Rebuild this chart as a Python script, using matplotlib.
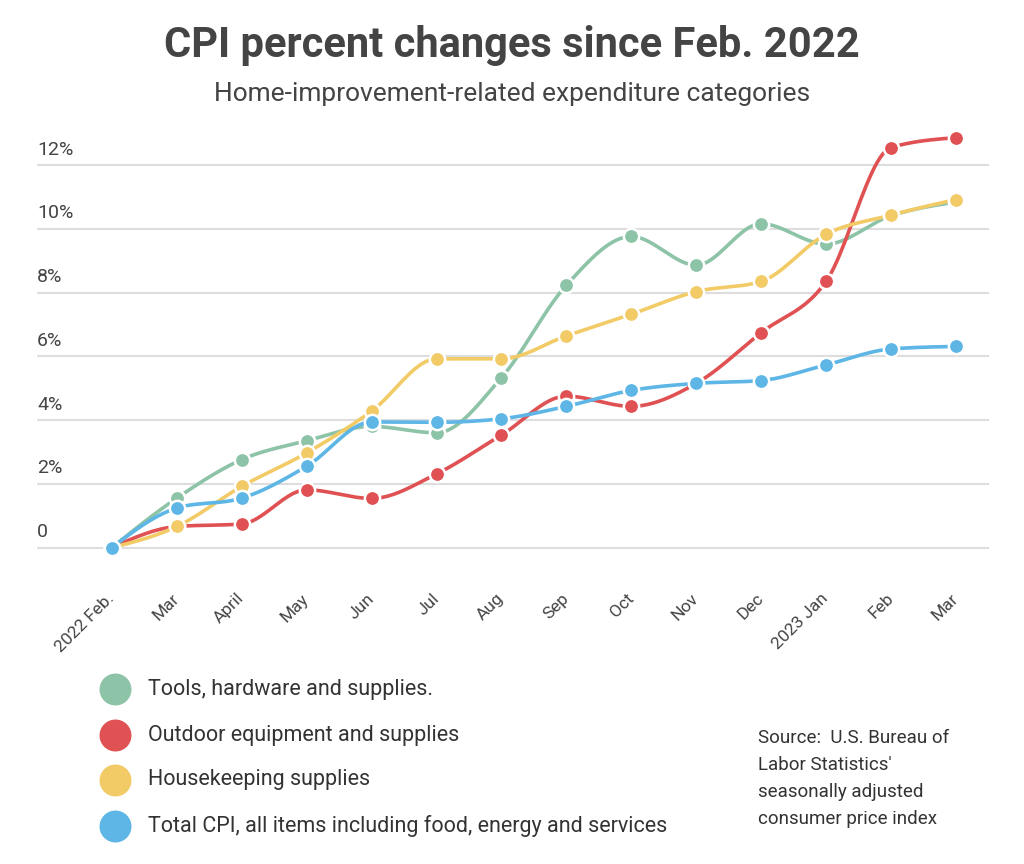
import numpy as np
import matplotlib.pyplot as plt
from matplotlib.lines import Line2D

plt.rcParams['font.family'] = ['Roboto', 'DejaVu Sans']

months = ['2022 Feb.', 'Mar', 'April', 'May', 'Jun', 'Jul', 'Aug', 'Sep',
          'Oct', 'Nov', 'Dec', '2023 Jan', 'Feb', 'Mar']

tools = [0, 1.55, 2.76, 3.35, 3.8, 3.6, 5.33, 8.23, 9.76, 8.86, 10.16, 9.52, 10.41, 10.84]
outdoor = [0, 0.66, 0.74, 1.81, 1.54, 2.31, 3.53, 4.75, 4.43, 5.15, 6.74, 8.35, 12.55, 12.86]
housekeeping = [0, 0.66, 1.92, 2.97, 4.28, 5.92, 5.92, 6.64, 7.32, 8.03, 8.35, 9.83, 10.43, 10.92]
total_cpi = [0, 1.24, 1.55, 2.55, 3.94, 3.93, 4.04, 4.43, 4.93, 5.15, 5.24, 5.73, 6.23, 6.31]

series_names = ['Tools, hardware and supplies.',
                'Outdoor equipment and supplies',
                'Housekeeping supplies',
                'Total CPI, all items including food, energy and services']
colors = ['#8DC3A7', '#E05153', '#F2CB67', '#5DB6E5']

y_ticks = [0, 2, 4, 6, 8, 10, 12]
y_tick_labels = ['0', '2%', '4%', '6%', '8%', '10%', '12%']

source_lines = ["Source:  U.S. Bureau of", "Labor Statistics'",
                "seasonally adjusted", "consumer price index"]


def monotone_x(x, y, steps=25):
    """Smooth curve through the points, like d3's curveMonotoneX."""
    x = np.asarray(x, float)
    y = np.asarray(y, float)
    n = len(x)
    h = np.diff(x)
    s = np.diff(y) / h
    t = np.zeros(n)
    for i in range(1, n - 1):
        p = (s[i - 1] * h[i] + s[i] * h[i - 1]) / (h[i - 1] + h[i])
        t[i] = (np.sign(s[i - 1]) + np.sign(s[i])) * min(abs(s[i - 1]), abs(s[i]), 0.5 * abs(p))
    t[0] = (3 * s[0] - t[1]) / 2
    t[-1] = (3 * s[-1] - t[-2]) / 2
    xs, ys = [], []
    u = np.linspace(0, 1, steps)
    for i in range(n - 1):
        dx = h[i] / 3
        p0 = (x[i], y[i])
        p1 = (x[i] + dx, y[i] + dx * t[i])
        p2 = (x[i + 1] - dx, y[i + 1] - dx * t[i + 1])
        p3 = (x[i + 1], y[i + 1])
        for k in range(2):
            b = ((1 - u) ** 3 * p0[k] + 3 * (1 - u) ** 2 * u * p1[k]
                 + 3 * (1 - u) * u ** 2 * p2[k] + u ** 3 * p3[k])
            (xs if k == 0 else ys).append(b)
    return np.concatenate(xs), np.concatenate(ys)


fig = plt.figure(figsize=(10.24, 8.64), dpi=100)
ax = fig.add_axes([0.0361, 0.3519, 0.9297, 0.4976])

x = np.arange(len(months))
data = [tools, outdoor, housekeeping, total_cpi]
for i, (vals, c) in enumerate(zip(data, colors)):
    cx, cy = monotone_x(x, vals)
    ax.plot(cx, cy, color=c, lw=2.6, zorder=3 + i * 2, solid_capstyle='round')
    ax.plot(x, vals, 'o', ms=11, color=c, mec='white', mew=1.8, zorder=4 + i * 2)

ax.set_xlim(-1.155, 13.51)
ax.set_ylim(-0.39, 13.1)

for v, lab in zip(y_ticks, y_tick_labels):
    ax.axhline(v, color='#dddddd', lw=1.5, zorder=1)
    ax.text(0, v + 0.2, lab, transform=ax.get_yaxis_transform(),
            ha='left', va='bottom', fontsize=14, color='#444444')

for s in ax.spines.values():
    s.set_visible(False)
ax.set_yticks([])
ax.set_xticks(x)
ax.set_xticklabels(months, rotation=45, ha='right', va='center',
                   rotation_mode='anchor', fontsize=12.5, color='#444444')
ax.tick_params(axis='x', length=0, pad=26)

fig.text(0.5, 1 - 46 / 864, 'CPI percent changes since Feb. 2022', ha='center', va='center',
         fontsize=30, fontweight='bold', color='#444444')
fig.text(0.5, 1 - 94 / 864, 'Home-improvement-related expenditure categories', ha='center',
         va='center', fontsize=19, color='#444444')

legend_y = [689, 735, 780, 826]
for name, c, yy in zip(series_names, colors, legend_y):
    fig.add_artist(Line2D([115 / 1024], [1 - yy / 864], marker='o', ms=22, color=c,
                          mec=c, linestyle='none', transform=fig.transFigure))
    fig.text(148 / 1024, 1 - yy / 864, name, ha='left', va='center',
             fontsize=15.5, color='#333333')

for k, line in enumerate(source_lines):
    fig.text(758 / 1024, 1 - (738 + 27 * k) / 864, line, ha='left', va='center',
             fontsize=13.5, color='#333333')

fig.savefig('out.png', dpi=100, facecolor='white')
